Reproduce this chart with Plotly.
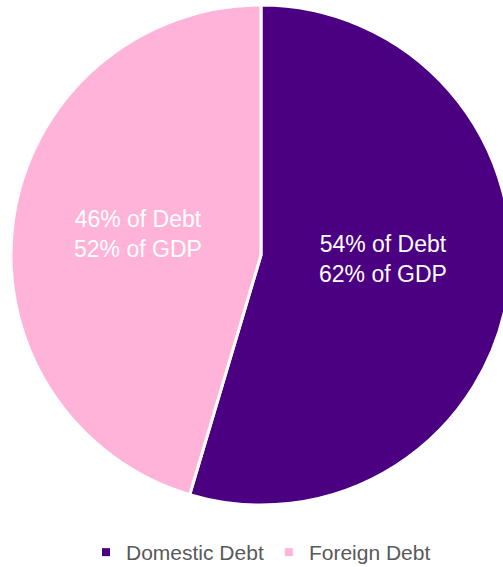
import plotly.graph_objects as go

categories = ["Domestic Debt", "Foreign Debt"]
debt_share = [54, 46]          # shown in labels (% of debt)
gdp_share = [62, 52]           # shown in labels (% of GDP)
slice_values = [54.6, 45.4]    # slice sizes as estimated from the drawn angles
colors = ["#4B0082", "#FFB3D9"]

W, H = 522, 573
labels_text = [f"{d}% of Debt<br>{g}% of GDP" for d, g in zip(debt_share, gdp_share)]
# label anchor positions (pixels in the figure)
label_pos = [(383, 259), (138, 234)]

fig = go.Figure()
fig.add_trace(go.Pie(
    labels=categories,
    values=slice_values,
    textinfo="none",
    marker=dict(colors=colors, line=dict(color="white", width=3)),
    sort=False,
    direction="clockwise",
    rotation=0,
    showlegend=False,
    hoverinfo="label+percent",
    domain=dict(x=[0, 1], y=[1 - 505 / H, 1 - 5 / H]),
))

for txt, (px, py) in zip(labels_text, label_pos):
    fig.add_annotation(
        text=txt, xref="paper", yref="paper", x=px / W, y=1 - py / H,
        xanchor="center", yanchor="middle", showarrow=False,
        font=dict(family="Liberation Sans, Arial, sans-serif", size=23, color="white"),
    )

# legend entries with small square markers
for name, col in zip(categories, colors):
    fig.add_trace(go.Scatter(
        x=[None], y=[None], mode="markers", name=name,
        marker=dict(symbol="square", size=8, color=col),
    ))

fig.update_layout(
    width=W, height=H, autosize=False,
    margin=dict(l=0, r=0, t=0, b=0),
    paper_bgcolor="white", plot_bgcolor="white",
    xaxis=dict(visible=False), yaxis=dict(visible=False),
    legend=dict(
        orientation="h", x=0.5, xanchor="center",
        y=0, yanchor="bottom",
        font=dict(family="Liberation Sans, Arial, sans-serif", size=21, color="#595959"),
        itemwidth=30, tracegroupgap=0,
    ),
)

fig.write_html("out.html")
